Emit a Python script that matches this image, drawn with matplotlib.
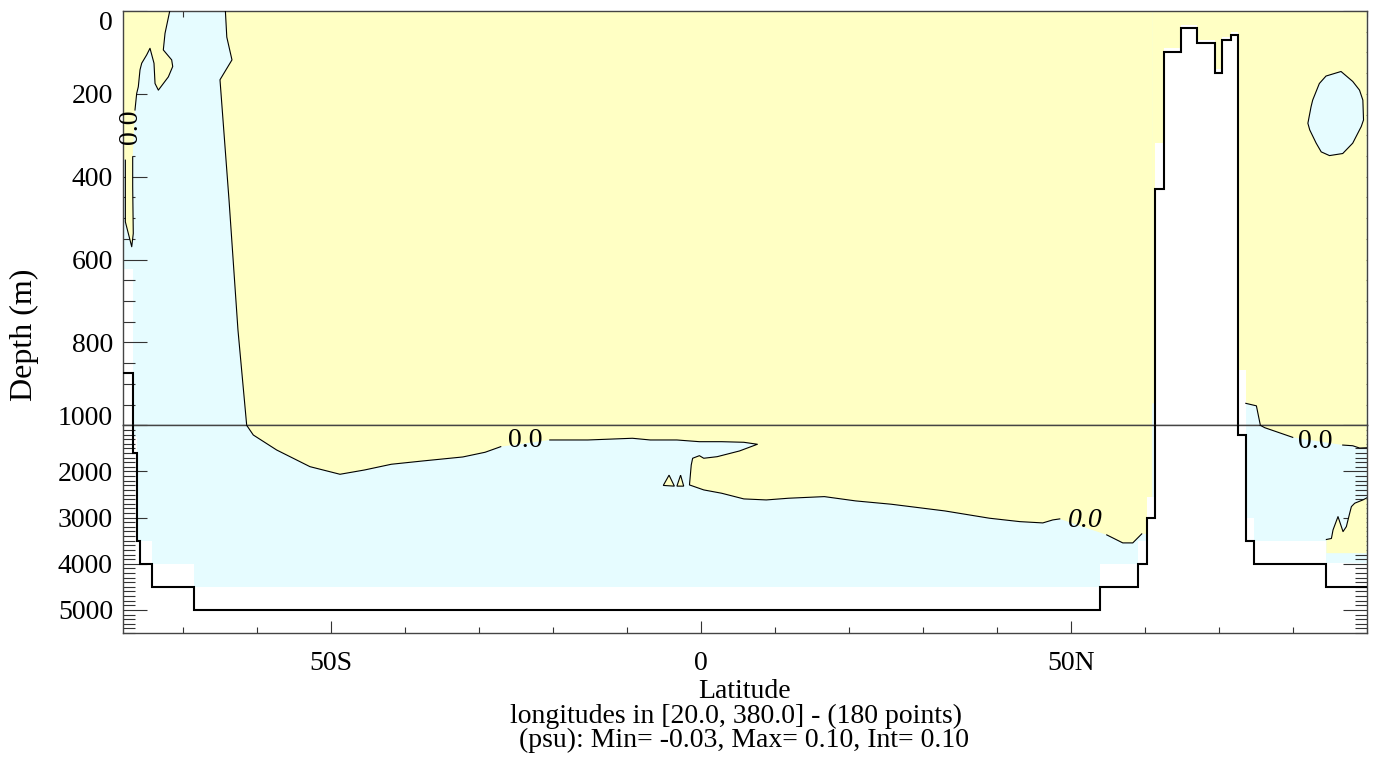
import numpy as np
import matplotlib
matplotlib.use("Agg")
import matplotlib.pyplot as plt
from matplotlib.patches import Polygon
from matplotlib.ticker import MultipleLocator

plt.rcParams['font.family'] = ['Liberation Serif', 'DejaVu Serif']

# ---- data (latitude in degrees, depth in m) ----
lat_min, lat_max = -78.15, 90.0

# bathymetry step line
bathy_lat = [-78.15, -76.76, -76.76, -76.26, -76.26, -75.81, -75.81, -74.23, -74.23, -68.47, -68.47,
             53.92, 53.92, 59.05, 59.05, 60.27, 60.27, 61.35, 61.35, 62.57, 62.57, 64.96, 64.96,
             67.12, 67.12, 69.46, 69.46, 70.50, 70.50, 71.62, 71.62, 72.61, 72.61, 73.66, 73.66,
             74.73, 74.73, 84.55, 84.55, 90.0]
bathy_depth = [874, 874, 1600, 1600, 3500, 3500, 4000, 4000, 4500, 4500, 5000,
               5000, 4500, 4500, 4000, 4000, 3000, 3000, 430, 430, 100, 100, 41,
               41, 78, 78, 149, 149, 70, 70, 58, 58, 1211, 1211, 3500,
               3500, 4000, 4000, 4500, 4500]

# region where the field has values
cover_lat = [-78.15, 90.0, 90.0, 84.55, 84.55, 74.73, 74.73, 73.66, 73.66, 72.61, 72.61, 71.62, 71.62,
             70.50, 70.50, 69.46, 69.46, 67.12, 67.12, 64.96, 64.96, 62.57, 62.57, 61.35, 61.35,
             60.27, 60.27, 59.05, 59.05, 53.92, 53.92, -68.47, -68.47, -74.23, -74.23, -76.26,
             -76.26, -76.76, -76.76, -78.15]
cover_depth = [0, 0, 3990, 3990, 3500, 3500, 3000, 3000, 867, 867, 50, 50, 62,
               62, 140, 140, 70, 70, 33, 33, 90, 90, 319, 319, 2560,
               2560, 3500, 3500, 4000, 4000, 4500, 4500, 4000, 4000, 3500, 3500,
               1250, 1250, 623, 623]

# main zero contour (three pieces, broken at the labels)
mid1_lat = [-64.27, -64.08, -63.38, -65.0, -63.78, -62.57, -61.39, -60.50, -57.34, -52.84, -48.78,
            -45.46, -41.84, -37.61, -32.18, -29.16, -27.05]
mid1_depth = [0, 63, 118, 166, 456, 770, 1000, 1210, 1535, 1896, 2061,
              1968, 1844, 1773, 1686, 1584, 1463]
mid2_lat = [-20.42, -15.28, -9.26, -6.84, -3.24, -0.20, 2.81, 5.81, 7.64, 5.22, 2.20, 0.39, -0.20,
            -1.11, -1.30, -1.54, 0.39, 2.81, 5.81, 8.84, 11.86, 16.69, 20.91, 25.73, 32.97, 39.0,
            43.11, 46.22, 47.57, 48.51]
mid2_depth = [1318, 1318, 1281, 1318, 1318, 1355, 1355, 1368, 1411, 1556, 1680, 1714, 1658,
              1714, 1859, 2292, 2400, 2472, 2595, 2617, 2580, 2545, 2638, 2710, 2855, 3013,
              3087, 3115, 3050, 3028]
mid3_lat = [54.86, 57.03, 58.38, 59.59]
mid3_depth = [3374, 3548, 3548, 3353]

# two small islands near the equator
isl1_lat = [-5.08, -4.30, -3.58]
isl1_depth = [2303, 2080, 2318]
isl2_lat = [-3.24, -2.74, -2.32]
isl2_depth = [2318, 2080, 2318]

# southern edge contour
left1_lat = [-71.79, -72.43, -72.66, -71.53, -71.39, -71.98, -73.33, -73.78, -73.92, -74.46,
             -74.91, -75.58, -75.81, -76.04, -76.26, -76.49]
left1_depth = [0, 54, 94, 118, 134, 159, 191, 175, 126, 90, 106, 126, 142, 183, 199, 239]
left2_lat = [-76.80, -76.80, -76.72, -76.93, -77.79, -77.79]
left2_depth = [352, 424, 537, 569, 509, 360]

# north of the ridge
right1_lat = [73.66, 75.09, 76.22, 80.0]
right1_depth = [947, 953, 1052, 1261]
right2_lat = [86.76, 88.11, 89.05, 90.0]
right2_depth = [1428, 1443, 1493, 1487]

ell_lat = [82.05, 82.48, 82.70, 83.60, 84.50, 86.53, 88.11, 89.03, 89.48, 89.57, 89.26, 88.11,
           86.76, 84.97, 83.85, 83.17, 82.30]
ell_depth = [271, 231, 215, 175, 157, 146, 170, 191, 215, 263, 279, 319, 344, 349, 340, 319, 287]

br_lat = [84.55, 85.23, 85.45, 86.12, 86.80, 87.25, 87.70, 87.93, 88.38, 89.5, 90.0]
br_depth = [3474, 3452, 3266, 2978, 3303, 3195, 2905, 2762, 2688, 2616, 2573]
br_bottom = 3770

# contour labels: (lat, depth, rotation, style)
labels = [(-23.8, 1340, 0, 'normal'), (51.9, 3071, 0, 'italic'),
          (83.1, 1357, 0, 'normal'), (-77.1, 280, 90, 'normal')]

yellow = '#ffffc4'
cyan = '#e6fcff'
fs_tick = 20
fs_text = 20


def draw(ax):
    cover = Polygon(np.column_stack([cover_lat, cover_depth]), closed=True,
                    facecolor=cyan, edgecolor='none', zorder=1)
    ax.add_patch(cover)

    mid_poly = list(zip(mid1_lat, mid1_depth)) + list(zip(mid2_lat, mid2_depth)) + \
        list(zip(mid3_lat, mid3_depth)) + [(61.0, 3353), (61.0, 0)]
    left_poly = [(lat_min, 0)] + list(zip(left1_lat, left1_depth)) + \
        list(zip(left2_lat, left2_depth)) + [(lat_min, 355)]
    right_poly = [(61.0, 0), (lat_max, 0)] + \
        list(zip(right2_lat[::-1], right2_depth[::-1])) + \
        list(zip(right1_lat[::-1], right1_depth[::-1])) + [(61.0, 947)]
    br_poly = list(zip(br_lat, br_depth)) + [(lat_max, br_bottom), (br_lat[0], br_bottom)]
    for pts in (mid_poly, left_poly, right_poly, br_poly):
        p = Polygon(pts, closed=True, facecolor=yellow, edgecolor='none', zorder=2)
        ax.add_patch(p)
        p.set_clip_path(cover)

    ell = Polygon(np.column_stack([ell_lat, ell_depth]), closed=True,
                  facecolor=cyan, edgecolor='black', lw=0.8, zorder=3)
    ax.add_patch(ell)
    for la, de in ((isl1_lat, isl1_depth), (isl2_lat, isl2_depth)):
        ax.add_patch(Polygon(np.column_stack([la, de]), closed=True,
                             facecolor=yellow, edgecolor='black', lw=0.8, zorder=3))

    for la, de in ((mid1_lat, mid1_depth), (mid2_lat, mid2_depth), (mid3_lat, mid3_depth),
                   (left1_lat, left1_depth), (left2_lat, left2_depth),
                   (right1_lat, right1_depth), (right2_lat, right2_depth), (br_lat, br_depth)):
        ax.plot(la, de, color='black', lw=0.8, zorder=4)

    ax.plot(bathy_lat, bathy_depth, color='black', lw=1.5, zorder=5, solid_joinstyle='miter')
    ax.set_xlim(lat_min, lat_max)


fig = plt.figure(figsize=(13.8, 7.62), dpi=100)
W_PX, H_PX = 1380, 762
x0, x1 = 122.7, 1366.7
y_top, y_mid, y_bot = 11, 425.3, 633


def fy(p):
    return 1 - p / H_PX


ax_top = fig.add_axes([x0 / W_PX, fy(y_mid), (x1 - x0) / W_PX, fy(y_top) - fy(y_mid)])
ax_bot = fig.add_axes([x0 / W_PX, fy(y_bot), (x1 - x0) / W_PX, fy(y_mid) - fy(y_bot)])

for ax in (ax_top, ax_bot):
    ax.set_facecolor('white')
    draw(ax)
    for s in ax.spines.values():
        s.set_color('#444444')
        s.set_linewidth(1.0)
    ax.tick_params(axis='y', which='both', direction='in', left=True, right=True,
                   labelsize=fs_tick, pad=7, colors='#333333', labelcolor='black')
    ax.tick_params(axis='y', which='major', length=17, width=0.8)
    ax.tick_params(axis='y', which='minor', length=8.5, width=0.8)
    ax.set_xticks([-50, 0, 50], ['50S', '0', '50N'])
    ax.xaxis.set_minor_locator(MultipleLocator(10))

ax_top.set_ylim(1000, 0)
ax_top.set_yticks([0, 200, 400, 600, 800, 1000], ['0', '200', '400', '600', '800', '1000'])
ax_top.yaxis.set_minor_locator(MultipleLocator(50))
ax_top.tick_params(axis='x', which='both', direction='in', bottom=False, top=True,
                   labelbottom=False, colors='#333333')
ax_top.tick_params(axis='x', which='major', length=11, width=0.8)
ax_top.tick_params(axis='x', which='minor', length=4.5, width=0.8)
ax_top.yaxis.get_major_ticks()[0].label1.set_va('top')
ax_top.yaxis.get_major_ticks()[-1].label1.set_va('baseline')

ax_bot.set_ylim(5500, 1000)
ax_bot.set_yticks([1000, 2000, 3000, 4000, 5000], ['', '2000', '3000', '4000', '5000'])
ax_bot.yaxis.set_minor_locator(MultipleLocator(100))
ax_bot.tick_params(axis='x', which='both', direction='in', bottom=True, top=False,
                   labelsize=fs_tick, pad=13, colors='#333333', labelcolor='black')
ax_bot.tick_params(axis='x', which='major', length=9, width=0.8)
ax_bot.tick_params(axis='x', which='minor', length=4.5, width=0.8)

for la, de, rot, sty in labels:
    ax = ax_top if de < 1000 else ax_bot
    ax.text(la, de, '0.0', fontsize=fs_tick, rotation=rot, style=sty,
            ha='center', va='center', zorder=6)

fig.text(744.7 / W_PX, fy(691), 'Latitude', ha='center', va='center', fontsize=fs_text)
fig.text(736 / W_PX, fy(716), 'longitudes in [20.0, 380.0] - (180 points)',
         ha='center', va='center', fontsize=fs_text)
fig.text(744 / W_PX, fy(740), '(psu): Min= -0.03, Max= 0.10, Int= 0.10',
         ha='center', va='center', fontsize=fs_text)
fig.text(24 / W_PX, fy(335), 'Depth (m)', rotation=90, ha='center', va='center', fontsize=23)

fig.savefig('out.png', dpi=100)
